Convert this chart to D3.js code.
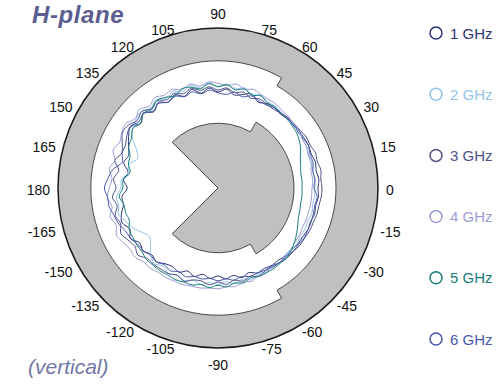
<!DOCTYPE html>
<html>
<head>
<meta charset="utf-8">
<script src="https://cdn.jsdelivr.net/npm/d3@7"></script>
<style>
  html, body { margin: 0; padding: 0; background: #fff; }
  svg { display: block; font-family: "Liberation Sans", Arial, sans-serif; }
</style>
</head>
<body>
<div id="chart"></div>
<script>
// --- data ---
const angles = [0, 5, 10, 15, 20, 25, 30, 35, 40, 45, 50, 55, 60, 65, 70, 75, 80, 85,
  90, 95, 100, 105, 110, 115, 120, 125, 130, 135, 140, 145, 150, 155, 160, 165, 170, 175,
  180, 185, 190, 195, 200, 205, 210, 215, 220, 225, 230, 235, 240, 245, 250, 255, 260, 265,
  270, 275, 280, 285, 290, 295, 300, 305, 310, 315, 320, 325, 330, 335, 340, 345, 350, 355];

const series = ["1 GHz", "2 GHz", "3 GHz", "4 GHz", "5 GHz", "6 GHz"];
const colors = ["#2e3478", "#92c3ea", "#4f5188", "#9a9dd3", "#17807a", "#4858ad"];

// gain in dB, one value per angle above
const ghz1 = [-15.0, -14.7, -15.1, -14.8, -15.2, -15.0, -15.3, -15.6, -15.2, -15.5, -15.8, -15.4,
  -15.6, -16.3, -15.0, -15.8, -16.4, -15.2, -16.0, -14.9, -15.9, -14.5, -15.6, -14.3,
  -15.2, -13.9, -15.1, -13.5, -14.8, -13.3, -14.2, -15.3, -16.2, -15.6, -17.2, -16.3,
  -17.3, -15.9, -16.0, -15.0, -14.5, -15.7, -14.7, -16.1, -15.5, -16.5, -16.0, -16.9,
  -17.3, -16.8, -17.9, -17.1, -18.1, -17.3, -18.0, -17.2, -17.8, -16.8, -17.5, -16.6,
  -16.8, -16.4, -16.5, -16.0, -16.0, -15.6, -15.6, -15.2, -15.4, -15.0, -15.2, -14.8];
const ghz2 = [-15.8, -15.6, -16.0, -15.7, -15.9, -15.5, -15.7, -15.4, -15.6, -15.2, -15.4, -15.0,
  -15.2, -14.4, -15.1, -14.1, -14.8, -13.9, -14.6, -13.6, -14.6, -13.5, -14.4, -13.3,
  -14.1, -13.0, -13.9, -12.9, -13.3, -14.0, -15.3, -17.6, -18.6, -17.0, -17.3, -15.8,
  -15.7, -14.5, -14.8, -14.3, -15.5, -16.5, -17.9, -19.0, -18.0, -16.2, -15.3, -16.1,
  -15.2, -16.0, -15.4, -16.2, -15.5, -16.3, -15.8, -16.5, -15.7, -16.4, -15.6, -16.3,
  -15.8, -16.0, -15.7, -15.9, -16.1, -15.8, -16.2, -15.9, -16.1, -15.7, -16.0, -15.7];
const ghz3 = [-14.0, -14.2, -13.9, -14.3, -14.1, -14.6, -14.5, -14.9, -15.1, -15.2, -15.6, -15.9,
  -15.8, -15.4, -16.1, -15.2, -15.8, -14.9, -15.5, -14.6, -15.2, -14.2, -14.9, -13.9,
  -14.5, -13.4, -14.1, -13.0, -13.7, -12.6, -12.4, -13.6, -14.4, -13.3, -14.8, -13.8,
  -14.5, -13.5, -14.4, -13.4, -14.1, -13.2, -14.0, -14.6, -13.9, -15.1, -15.0, -15.2,
  -15.3, -15.9, -15.2, -16.2, -16.4, -15.7, -16.5, -15.8, -16.6, -15.9, -16.5, -15.7,
  -16.2, -15.9, -15.8, -15.4, -15.4, -15.0, -15.0, -14.7, -14.7, -14.4, -14.4, -14.1];
const ghz4 = [-16.5, -16.2, -16.4, -15.9, -16.0, -15.6, -15.6, -15.2, -15.3, -14.9, -14.9, -14.5,
  -14.5, -14.3, -13.8, -14.4, -13.6, -14.3, -13.8, -13.4, -14.1, -13.1, -13.8, -12.8,
  -13.2, -12.4, -13.3, -12.2, -13.0, -11.9, -12.2, -12.9, -12.1, -13.3, -12.4, -13.4,
  -12.8, -12.3, -13.1, -12.1, -12.9, -12.0, -12.7, -13.2, -13.0, -13.8, -13.7, -14.2,
  -14.1, -14.3, -14.3, -14.6, -14.6, -14.9, -14.8, -15.2, -15.0, -15.7, -15.2, -16.0,
  -15.6, -16.2, -15.8, -16.3, -16.2, -16.5, -16.5, -16.7, -16.6, -16.6, -16.5, -16.5];
const ghz5 = [-19.0, -18.9, -19.0, -18.6, -18.1, -17.2, -16.5, -16.0, -15.8, -15.6, -15.5, -15.3,
  -15.4, -14.6, -15.3, -14.4, -15.1, -14.1, -14.7, -13.8, -14.8, -13.9, -13.6, -14.6,
  -13.8, -13.3, -14.3, -13.6, -14.8, -14.0, -15.0, -15.4, -16.6, -16.8, -17.7, -16.2,
  -16.2, -15.2, -16.1, -16.1, -16.4, -15.5, -15.4, -15.2, -15.2, -14.7, -14.8, -14.7,
  -14.9, -14.7, -15.0, -14.9, -15.5, -15.0, -15.7, -15.2, -15.9, -15.4, -16.1, -15.6,
  -15.6, -15.5, -15.6, -15.5, -16.0, -16.6, -17.3, -18.0, -18.6, -18.8, -19.0, -18.9];
const ghz6 = [-16.0, -15.7, -15.9, -15.4, -15.5, -15.0, -15.1, -15.2, -15.5, -15.3, -15.7, -15.5,
  -16.0, -15.9, -15.5, -16.4, -15.7, -16.5, -16.2, -15.4, -16.1, -15.1, -15.7, -14.7,
  -15.2, -14.2, -14.8, -13.7, -14.2, -13.2, -13.7, -14.5, -14.5, -15.2, -13.3, -12.4,
  -11.6, -12.3, -12.4, -13.2, -13.6, -14.5, -14.8, -15.5, -15.6, -16.2, -15.9, -16.6,
  -16.1, -16.9, -16.4, -17.1, -16.9, -17.3, -16.8, -17.2, -16.6, -17.1, -16.5, -16.6,
  -16.3, -16.3, -15.8, -15.9, -15.4, -15.4, -15.1, -15.2, -15.2, -15.3, -15.4, -15.1];
const seriesValues = [ghz1, ghz2, ghz3, ghz4, ghz5, ghz6];

// gray background bands (angles in degrees, radii in dB)
const ringAngles = [-60, 60, 300];
const ringInner = [-10.5, -8.2];
const coreAngles = [-135, -60, 60, 135];
const coreOuter = [-23.8, -21.0, -23.8];

// angle tick labels
const tickAngles = [0, 15, 30, 45, 60, 75, 90, 105, 120, 135, 150, 165, 180,
  -165, -150, -135, -120, -105, -90, -75, -60, -45, -30, -15];

// --- layout ---
const width = 500, height = 384;
const cx = 218, cy = 188;

const svg = d3.select("#chart").append("svg")
  .attr("width", width)
  .attr("height", height);

const r = d3.scaleLinear().domain([-40, 0]).range([0, 160]);
const rad = deg => deg * Math.PI / 180;

const g = svg.append("g").attr("transform", `translate(${cx},${cy})`);

// outer ring with stepped inner edge (canvas angle = -math angle)
const innerEdge = d3.path();
innerEdge.moveTo(r(ringInner[0]) * Math.cos(rad(-ringAngles[1])), r(ringInner[0]) * Math.sin(rad(-ringAngles[1])));
innerEdge.arc(0, 0, r(ringInner[0]), rad(-ringAngles[1]), rad(-ringAngles[0]), false);
innerEdge.lineTo(r(ringInner[1]) * Math.cos(rad(-ringAngles[0])), r(ringInner[1]) * Math.sin(rad(-ringAngles[0])));
innerEdge.arc(0, 0, r(ringInner[1]), rad(-ringAngles[0]), rad(360 - ringAngles[1]), false);
innerEdge.closePath();

const outerEdge = d3.path();
outerEdge.moveTo(r(0), 0);
outerEdge.arc(0, 0, r(0), 0, Math.PI * 2);
outerEdge.closePath();

g.append("path")
  .attr("d", outerEdge.toString() + innerEdge.toString())
  .attr("fill", "#c0c0c0")
  .attr("fill-rule", "evenodd");
g.append("path")
  .attr("d", innerEdge.toString())
  .attr("fill", "none")
  .attr("stroke", "#4a4a4a")
  .attr("stroke-width", 1);
g.append("path")
  .attr("d", outerEdge.toString())
  .attr("fill", "none")
  .attr("stroke", "#1a1a1a")
  .attr("stroke-width", 1.5);

// inner core (pac-man shape)
const core = d3.path();
core.moveTo(0, 0);
for (let i = 0; i < coreOuter.length; i++) {
  const a0 = -coreAngles[coreAngles.length - 1 - i];
  const a1 = -coreAngles[coreAngles.length - 2 - i];
  const rr = r(coreOuter[i]);
  core.lineTo(rr * Math.cos(rad(a0)), rr * Math.sin(rad(a0)));
  core.arc(0, 0, rr, rad(a0), rad(a1), false);
}
core.closePath();
g.append("path")
  .attr("d", core.toString())
  .attr("fill", "#c0c0c0")
  .attr("stroke", "#4a4a4a")
  .attr("stroke-width", 1);

// traces
const line = d3.lineRadial()
  .angle(d => rad(90 - d[0]))
  .radius(d => r(d[1]))
  .curve(d3.curveCatmullRomClosed.alpha(0.5));

seriesValues.forEach((vals, i) => {
  g.append("path")
    .datum(angles.map((a, k) => [a, vals[k]]))
    .attr("d", line)
    .attr("fill", "none")
    .attr("stroke", colors[i])
    .attr("stroke-width", 1)
    .attr("stroke-linejoin", "round");
});

// angle labels
const labelR = r(0) + 8;
g.selectAll(".tick")
  .data(tickAngles)
  .enter().append("text")
  .attr("class", "tick")
  .attr("x", d => labelR * Math.cos(rad(d)))
  .attr("y", d => {
    const py = -labelR * Math.sin(rad(d));
    if (Math.abs(Math.cos(rad(d))) < 0.05) return d > 0 ? py - 1 : py + 14;
    return py + 6.5 + 3 * Math.sin(rad(d));
  })
  .attr("text-anchor", d => {
    const c = Math.cos(rad(d));
    return c > 0.05 ? "start" : (c < -0.05 ? "end" : "middle");
  })
  .attr("font-size", 14)
  .attr("fill", "#111")
  .text(d => d);

// titles
svg.append("text")
  .attr("x", 32).attr("y", 23)
  .attr("font-size", 24)
  .attr("font-weight", "bold")
  .attr("font-style", "italic")
  .attr("letter-spacing", 0.6)
  .attr("fill", "#5b5e8e")
  .text("H-plane");

svg.append("text")
  .attr("x", 28).attr("y", 374)
  .attr("font-size", 21)
  .attr("font-style", "italic")
  .attr("fill", "#7276a8")
  .text("(vertical)");

// legend
const legendY = d3.scalePoint().domain(series).range([33, 339]);
const legend = svg.selectAll(".legend")
  .data(series)
  .enter().append("g")
  .attr("class", "legend")
  .attr("transform", d => `translate(436,${legendY(d)})`);
legend.append("circle")
  .attr("r", 6)
  .attr("fill", "none")
  .attr("stroke", (d, i) => colors[i])
  .attr("stroke-width", 1.5);
legend.append("text")
  .attr("x", 14).attr("y", 5.5)
  .attr("font-size", 15)
  .attr("fill", (d, i) => colors[i])
  .text(d => d);
</script>
</body>
</html>
